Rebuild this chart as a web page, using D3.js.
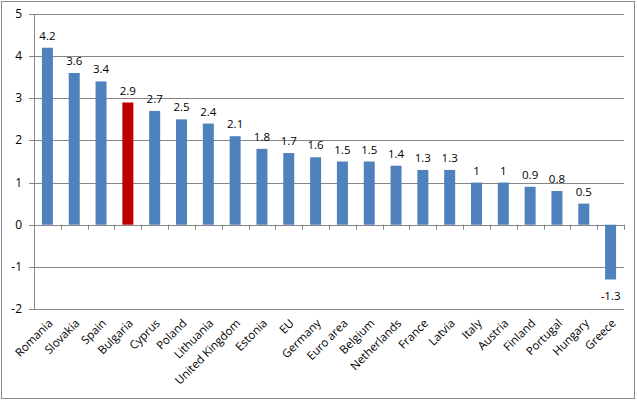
<!DOCTYPE html>
<html><head><meta charset="utf-8">
<script src="https://cdn.jsdelivr.net/npm/d3@7"></script>
<style>body{margin:0;background:#fff}svg{display:block}text{font-family:"Open Sans","Liberation Sans",sans-serif;}</style>
</head><body><svg id="c" width="637" height="401"></svg>
<script>
const categories=["Romania","Slovakia","Spain","Bulgaria","Cyprus","Poland","Lithuania","United Kingdom","Estonia","EU","Germany","Euro area","Belgium","Netherlands","France","Latvia","Italy","Austria","Finland","Portugal","Hungary","Greece"];
const values=[4.2,3.6,3.4,2.9,2.7,2.5,2.4,2.1,1.8,1.7,1.6,1.5,1.5,1.4,1.3,1.3,1,1,0.9,0.8,0.5,-1.3];
const highlight=["Bulgaria"];
const yTicks=[-2,-1,0,1,2,3,4,5];

const svg=d3.select("#c");
svg.append("rect").attr("x",1.5).attr("y",1.5).attr("width",633).attr("height",397).attr("fill","#fff").attr("stroke","#8c8c8c");
const x=d3.scaleBand().domain(categories).range([34,624]).paddingInner(0.59).paddingOuter(0.295);
const y=d3.scaleLinear().domain([-2,5]).range([309,14]);
const grid="#868686";
svg.append("g").selectAll("line").data(yTicks).join("line")
 .attr("x1",29).attr("x2",624).attr("y1",d=>Math.round(y(d))+0.5).attr("y2",d=>Math.round(y(d))+0.5)
 .attr("stroke",grid).attr("stroke-width",1);
svg.append("line").attr("x1",34.5).attr("x2",34.5).attr("y1",14).attr("y2",309).attr("stroke",grid);
svg.append("g").selectAll("text").data(yTicks).join("text")
 .attr("x",22).attr("y",d=>y(d)+4).attr("text-anchor","end").attr("font-size",12).text(d=>d);
svg.append("g").selectAll("rect").data(values).join("rect")
 .attr("x",(d,i)=>x(categories[i])).attr("width",x.bandwidth())
 .attr("y",d=>y(Math.max(0,d))).attr("height",d=>Math.abs(y(d)-y(0)))
 .attr("fill",(d,i)=>highlight.includes(categories[i])?"#C00000":"#4F81BD");
svg.append("g").selectAll("line").data(d3.range(categories.length+1)).join("line")
 .attr("x1",i=>Math.round(34+i*(590/22))+0.5).attr("x2",i=>Math.round(34+i*(590/22))+0.5)
 .attr("y1",y(0)).attr("y2",y(0)+5).attr("stroke",grid);
svg.append("g").selectAll("text").data(values).join("text")
 .attr("x",(d,i)=>x(categories[i])+x.bandwidth()/2)
 .attr("y",d=>d>=0?y(d)-8:y(d)+20)
 .attr("text-anchor","middle").attr("font-size",11.5).text(d=>d);
svg.append("g").selectAll("text").data(categories).join("text")
 .attr("transform",d=>`translate(${x(d)+x.bandwidth()/2+6},${324}) rotate(-45)`)
 .attr("text-anchor","end").attr("font-size",11.5).text(d=>d);
</script></body></html>
